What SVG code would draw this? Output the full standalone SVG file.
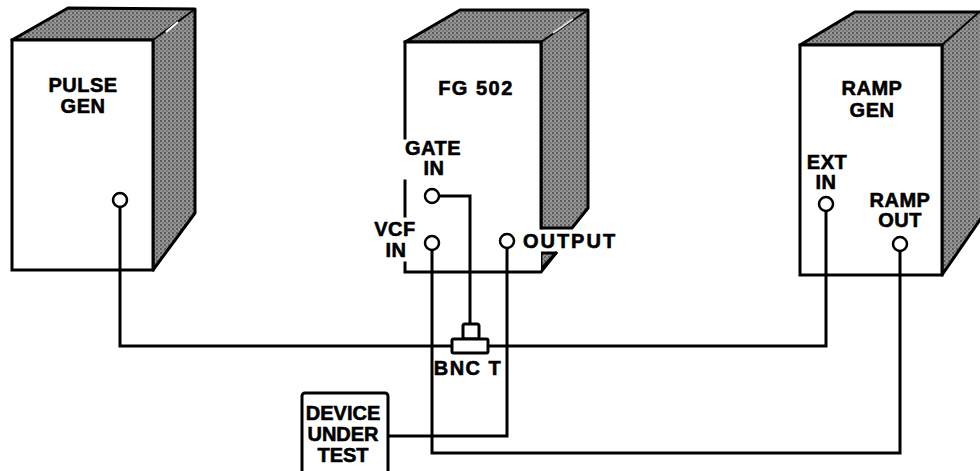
<svg xmlns="http://www.w3.org/2000/svg" width="980" height="471" viewBox="0 0 980 471">
<defs>
<pattern id="stip" width="4" height="4" patternUnits="userSpaceOnUse">
<rect width="4" height="4" fill="#8e8e8e"/>
<circle cx="1" cy="1" r="0.9" fill="#444"/>
<circle cx="3" cy="3" r="0.7" fill="#5a5a5a"/>
<circle cx="3" cy="1" r="0.5" fill="#c8c8c8"/>
<circle cx="1" cy="3" r="0.4" fill="#b0b0b0"/>
</pattern>
<style>
.shade{fill:url(#stip);stroke:#000;stroke-width:3;stroke-linejoin:round}
.face{fill:#fff;stroke:#000;stroke-width:3}
.edge{fill:none;stroke:#000;stroke-width:3;stroke-linecap:square}
.jack{fill:#fff;stroke:#000;stroke-width:2.5}
.wire{fill:none;stroke:#000;stroke-width:3;stroke-linejoin:miter}
.lbl{font-family:"Liberation Sans",Arial,sans-serif;font-weight:bold;font-size:20px;fill:#000;stroke:#000;stroke-width:0.6px;text-anchor:middle;letter-spacing:0.5px}
</style>
</defs>
<rect width="980" height="471" fill="#fff"/>

<g id="pulse-gen">
<polygon class="shade" points="12,40 68,8 195,9 195,213 153,270 153,40"/>
<line x1="153" y1="40" x2="195" y2="9" stroke="#000" stroke-width="2"/>
<line x1="166" y1="32" x2="178" y2="22" stroke="#fff" stroke-width="2"/>
<rect class="face" x="12" y="40" width="141" height="230"/>
<text class="lbl" x="83" y="92">PULSE</text>
<text class="lbl" x="83" y="113">GEN</text>
<circle class="jack" cx="120" cy="200" r="7"/>
</g>

<g id="fg502">
<polygon class="shade" points="405,42 460,10 588,10 588,208 572,228 541,228 541,42"/>
<line x1="541" y1="42" x2="588" y2="10" stroke="#000" stroke-width="2"/>
<line x1="553" y1="33" x2="573" y2="19" stroke="#ddd" stroke-width="2"/>
<polygon class="shade" points="541,253 556,253 541,269"/>
<rect x="405" y="42" width="136" height="230" fill="#fff"/>
<polyline class="edge" points="405,138 405,42 541,42 541,228"/>
<line class="edge" x1="405" y1="181" x2="405" y2="216"/>
<polyline class="edge" points="405,263 405,272 541,272 556,253"/>
<text class="lbl" x="476" y="95" style="letter-spacing:1.5px">FG 502</text>
<text class="lbl" x="433" y="155">GATE</text>
<text class="lbl" x="434" y="175">IN</text>
<text class="lbl" x="395" y="236">VCF</text>
<text class="lbl" x="396" y="257">IN</text>
<text class="lbl" x="570" y="248" style="letter-spacing:2px">OUTPUT</text>
<circle class="jack" cx="432" cy="196" r="7"/>
<circle class="jack" cx="432" cy="243" r="7"/>
<circle class="jack" cx="507" cy="241" r="7"/>
</g>

<g id="ramp-gen">
<polygon class="shade" points="800,45 855,12 982,12 982,217 942,275 942,45"/>
<line x1="942" y1="45" x2="978" y2="13" stroke="#000" stroke-width="2"/>
<rect class="face" x="800" y="45" width="142" height="230"/>
<text class="lbl" x="872" y="95">RAMP</text>
<text class="lbl" x="872" y="117">GEN</text>
<text class="lbl" x="827" y="169">EXT</text>
<text class="lbl" x="826" y="189">IN</text>
<text class="lbl" x="900" y="207">RAMP</text>
<text class="lbl" x="900" y="227">OUT</text>
<circle class="jack" cx="826" cy="204" r="7"/>
<circle class="jack" cx="900" cy="244" r="7"/>
</g>

<g id="connectors">
<polyline class="wire" points="120,207 120,346 826,346 826,211"/>
<polyline class="wire" points="439,196 470,196 470,323"/>
<polyline class="wire" points="432,250 432,453 900,453 900,251"/>
<polyline class="wire" points="507,248 507,436 388,436"/>
</g>

<g id="bnc-t">
<rect x="463" y="324" width="16" height="15" rx="2" fill="#fff" stroke="#000" stroke-width="3"/>
<rect x="452" y="339" width="36" height="14" rx="1.5" fill="#fff" stroke="#000" stroke-width="3"/>
<text class="lbl" x="468" y="375" style="letter-spacing:1.5px">BNC T</text>
</g>

<g id="device-under-test">
<rect x="302" y="393" width="86" height="90" rx="3" fill="#fff" stroke="#000" stroke-width="3"/>
<text class="lbl" x="343" y="420" style="letter-spacing:0px">DEVICE</text>
<text class="lbl" x="343" y="441" style="letter-spacing:0px">UNDER</text>
<text class="lbl" x="343" y="462" style="letter-spacing:0px">TEST</text>
</g>
</svg>
